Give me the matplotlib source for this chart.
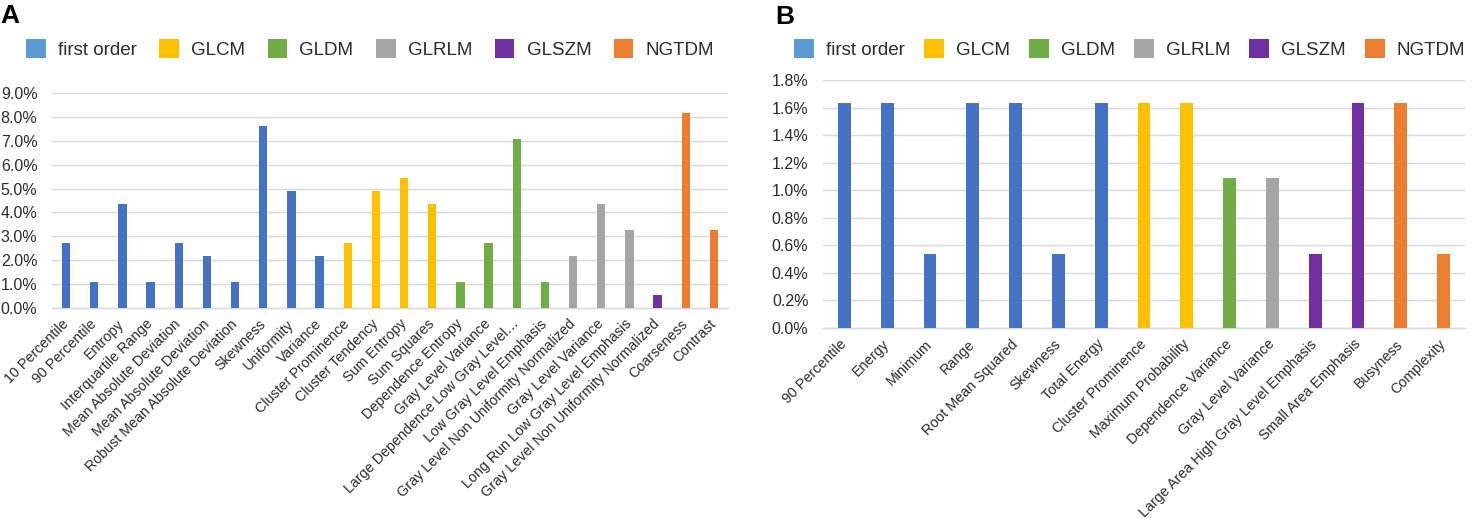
import matplotlib.pyplot as plt
from matplotlib.patches import Patch
from matplotlib.ticker import FuncFormatter

plt.rcParams['font.family'] = ['Liberation Sans', 'DejaVu Sans']

# panel A: feature share per feature class
a_labels = ["10 Percentile", "90 Percentile", "Entropy", "Interquartile Range",
            "Mean Absolute Deviation", "Mean Absolute Deviation",
            "Robust Mean Absolute Deviation", "Skewness", "Uniformity", "Variance",
            "Cluster Prominence", "Cluster Tendency", "Sum Entropy", "Sum Squares",
            "Dependence Entropy", "Gray Level Variance",
            "Large Dependence Low Gray Level\u2026", "Low Gray Level Emphasis",
            "Gray Level Non Uniformity Normalized", "Gray Level Variance",
            "Long Run Low Gray Level Emphasis", "Gray Level Non Uniformity Normalized",
            "Coarseness", "Contrast"]
a_values = [2.72, 1.09, 4.35, 1.09, 2.72, 2.17, 1.09, 7.61, 4.89, 2.17,
            2.72, 4.89, 5.43, 4.35,
            1.09, 2.72, 7.07, 1.09,
            2.17, 4.35, 3.26,
            0.54,
            8.15, 3.26]
a_groups = ["first order"] * 10 + ["GLCM"] * 4 + ["GLDM"] * 4 + ["GLRLM"] * 3 + \
           ["GLSZM"] * 1 + ["NGTDM"] * 2

# panel B
b_labels = ["90 Percentile", "Energy", "Minimum", "Range", "Root Mean Squared",
            "Skewness", "Total Energy", "Cluster Prominence", "Maximum Probability",
            "Dependence Variance", "Gray Level Variance",
            "Large Area High Gray Level Emphasis", "Small Area Emphasis",
            "Busyness", "Complexity"]
b_values = [1.63, 1.63, 0.54, 1.63, 1.63, 0.54, 1.63, 1.63, 1.63, 1.09, 1.09,
            0.54, 1.63, 1.63, 0.54]
b_groups = ["first order"] * 7 + ["GLCM"] * 2 + ["GLDM"] + ["GLRLM"] + \
           ["GLSZM"] * 2 + ["NGTDM"] * 2

group_names = ["first order", "GLCM", "GLDM", "GLRLM", "GLSZM", "NGTDM"]
bar_colors = {"first order": "#4472C4", "GLCM": "#FFC000", "GLDM": "#70AD47",
              "GLRLM": "#A5A5A5", "GLSZM": "#7030A0", "NGTDM": "#ED7D31"}
legend_colors = dict(bar_colors)
legend_colors["first order"] = "#5B9BD5"

TEXT = "#2b2b2b"
GRID = "#D9D9D9"


def draw_panel(fig, rect, labels, values, groups, ymax, ystep, fmt):
    ax = fig.add_axes(rect)
    x = range(len(labels))
    ax.bar(x, values, width=0.3, color=[bar_colors[g] for g in groups], zorder=3)
    ax.set_xlim(-0.5, len(labels) - 0.5)
    ax.set_ylim(0, ymax)
    ticks = [i * ystep for i in range(int(round(ymax / ystep)) + 1)]
    ax.set_yticks(ticks)
    ax.yaxis.set_major_formatter(FuncFormatter(lambda v, p: fmt % v))
    ax.grid(axis='y', color=GRID, linewidth=1.0, zorder=0)
    for s in ['top', 'right', 'left']:
        ax.spines[s].set_visible(False)
    ax.spines['bottom'].set_color(GRID)
    ax.spines['bottom'].set_linewidth(1.0)
    ax.tick_params(axis='both', length=0, colors=TEXT)
    ax.tick_params(axis='y', labelsize=11.5, pad=10.5)
    ax.set_xticks(list(x))
    ax.set_xticklabels(labels, rotation=45, ha='right', va='center',
                       rotation_mode='anchor', fontsize=10.3, color=TEXT)
    ax.tick_params(axis='x', pad=10)
    return ax


fig = plt.figure(figsize=(14.77, 5.18), dpi=100)
W, H = 1477.0, 518.0

draw_panel(fig, [52 / W, 1 - 308 / H, (728 - 52) / W, (308 - 93) / H],
           a_labels, a_values, a_groups, 9.0, 1.0, "%.1f%%")
draw_panel(fig, [823 / W, 1 - 328 / H, (1465 - 823) / W, (328 - 80) / H],
           b_labels, b_values, b_groups, 1.8, 0.2, "%.1f%%")

handles = [Patch(facecolor=legend_colors[g], label=g) for g in group_names]
for x0, cs in [(26, 1.2), (794, 1.02)]:
    fig.legend(handles=handles, loc='center left', bbox_to_anchor=(x0 / W, 1 - 49 / H),
               ncol=6, frameon=False, fontsize=13.5, borderpad=0, borderaxespad=0,
               handlelength=1.05, handleheight=1.15, handletextpad=0.65,
               columnspacing=cs, labelcolor=TEXT)

fig.text(0 / W, 1 - 4 / H, "A", fontsize=19, fontweight='bold', ha='left', va='top')
fig.text(775 / W, 1 - 5 / H, "B", fontsize=19, fontweight='bold', ha='left', va='top')

fig.savefig("out.png", dpi=100)
